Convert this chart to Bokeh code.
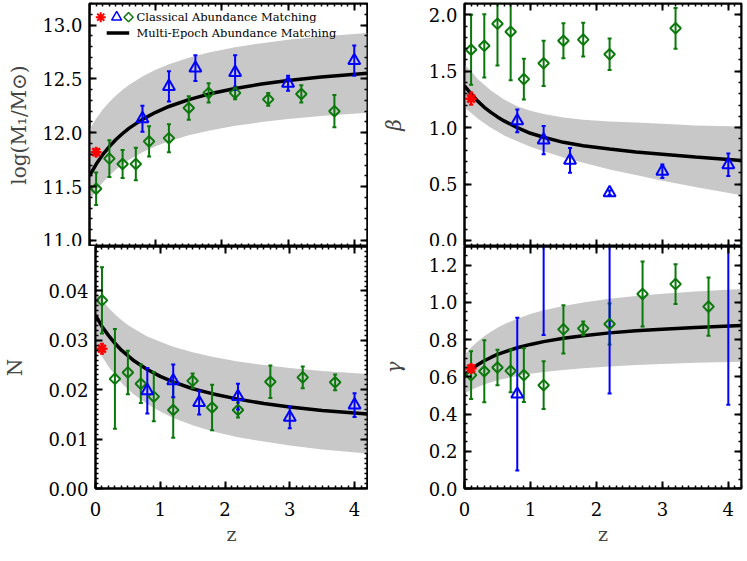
import numpy as np
from bokeh.plotting import figure
from bokeh.models import (Range1d, LinearAxis, FixedTicker, Label, PrintfTickFormatter,
                          CustomLabelingPolicy)
from bokeh.layouts import column, row
from bokeh.embed import file_html
from bokeh.resources import INLINE

# ---------------- data ----------------
z_green = [0.1, 0.3, 0.5, 0.7, 0.9, 1.2, 1.5, 1.8, 2.2, 2.7, 3.2, 3.7]
z_blue = [0.8, 1.2, 1.6, 2.2, 3.0, 4.0]
z_red = [0.1]

# log(M1/Msun)
m1_green = [11.48, 11.76, 11.71, 11.71, 11.92, 11.95, 12.23, 12.37, 12.37, 12.31, 12.36, 12.20]
m1_green_err = [0.15, 0.17, 0.13, 0.15, 0.14, 0.13, 0.11, 0.09, 0.06, 0.06, 0.08, 0.15]
m1_blue = [12.13, 12.43, 12.60, 12.56, 12.46, 12.67]
m1_blue_err = [0.12, 0.14, 0.12, 0.16, 0.07, 0.14]
m1_red = [11.82]
m1_red_err = [0.03]

# beta
z_green_beta = [0.1, 0.3, 0.5, 0.7, 0.9, 1.2, 1.5, 1.8, 2.2, 3.2]
beta_green = [1.69, 1.725, 1.92, 1.85, 1.43, 1.57, 1.77, 1.78, 1.65, 1.88]
beta_green_err = [0.31, 0.28, 0.37, 0.43, 0.18, 0.20, 0.155, 0.15, 0.14, 0.18]
beta_blue = [1.06, 0.89, 0.71, 0.424, 0.614, 0.672]
beta_blue_err = [0.10, 0.125, 0.11, 0.02, 0.06, 0.10]
beta_red = [1.257]
beta_red_err = [0.055]

# N
n_green = [0.0381, 0.0222, 0.0235, 0.0212, 0.0186, 0.0159, 0.0218, 0.0164, 0.0159, 0.0216, 0.0225, 0.0215]
n_green_err = [0.0067, 0.0101, 0.0044, 0.0039, 0.0050, 0.0056, 0.0015, 0.0046, 0.0015, 0.0033, 0.0022, 0.0016]
n_blue = [0.0198, 0.0218, 0.0174, 0.0186, 0.0144, 0.0169]
n_blue_err = [0.0046, 0.0033, 0.0024, 0.0026, 0.0022, 0.0024]
n_red = [0.0283]
n_red_err = [0.0010]

# gamma
gamma_green = [0.609, 0.630, 0.650, 0.632, 0.609, 0.555, 0.855, 0.860, 0.884, 1.045, 1.098, 0.977]
gamma_green_err = [0.128, 0.167, 0.096, 0.115, 0.144, 0.128, 0.130, 0.037, 0.110, 0.175, 0.107, 0.157]
z_blue_gamma = [0.8, 1.2, 2.2, 4.0]
gamma_blue = [0.507, 1.90, 1.80, 1.70]
gamma_blue_err = [0.41, 1.075, 1.29, 1.25]
gamma_red = [0.645]
gamma_red_err = [0.02]

# multi-epoch model (curve and band)
z_model = [0, 0.1, 0.2, 0.3, 0.4, 0.5, 0.6, 0.8, 1.0, 1.2, 1.5, 1.8, 2.2, 2.6, 3.0, 3.5, 4.2]
m1_model = [11.60, 11.707, 11.797, 11.872, 11.937, 11.993, 12.043, 12.124, 12.19, 12.244,
            12.308, 12.359, 12.411, 12.452, 12.485, 12.518, 12.553]
m1_hi = [12.03, 12.131, 12.215, 12.286, 12.347, 12.40, 12.446, 12.523, 12.585, 12.636,
         12.696, 12.744, 12.793, 12.832, 12.863, 12.893, 12.927]
m1_lo = [11.37, 11.462, 11.538, 11.603, 11.659, 11.707, 11.749, 11.819, 11.875, 11.921,
         11.976, 12.019, 12.064, 12.099, 12.128, 12.156, 12.186]
beta_model = [1.37, 1.30, 1.235, 1.18, 1.135, 1.095, 1.06, 1.0, 0.95, 0.915,
              0.87, 0.84, 0.81, 0.785, 0.765, 0.74, 0.71]
beta_hi = [1.56, 1.50, 1.43, 1.38, 1.33, 1.29, 1.25, 1.19, 1.15, 1.12,
           1.09, 1.07, 1.055, 1.045, 1.035, 1.02, 1.01]
beta_lo = [1.18, 1.13, 1.08, 1.04, 1.0, 0.965, 0.93, 0.88, 0.83, 0.79,
           0.735, 0.69, 0.63, 0.58, 0.53, 0.475, 0.40]
n_model = [0.0351, 0.0328, 0.0310, 0.0294, 0.0280, 0.0269, 0.0258, 0.0241, 0.0227, 0.0216,
           0.0202, 0.0192, 0.0181, 0.0172, 0.0165, 0.0158, 0.0151]
n_hi = [0.0401, 0.0382, 0.0366, 0.0353, 0.0341, 0.0331, 0.0323, 0.0308, 0.0297, 0.0287,
        0.0276, 0.0267, 0.0257, 0.0250, 0.0244, 0.0238, 0.0232]
n_lo = [0.0293, 0.0268, 0.0247, 0.0230, 0.0214, 0.0201, 0.0190, 0.0171, 0.0156, 0.0143,
        0.0128, 0.0116, 0.0104, 0.0095, 0.0087, 0.0079, 0.0071]
gamma_model = [0.61, 0.64, 0.665, 0.686, 0.704, 0.72, 0.733, 0.756, 0.774, 0.789,
               0.807, 0.821, 0.836, 0.847, 0.856, 0.865, 0.875]
gamma_hi = [0.717, 0.757, 0.79, 0.818, 0.842, 0.863, 0.882, 0.912, 0.937, 0.957,
            0.98, 0.999, 1.019, 1.034, 1.046, 1.058, 1.072]
gamma_lo = [0.51, 0.529, 0.545, 0.559, 0.571, 0.581, 0.59, 0.604, 0.616, 0.626,
            0.637, 0.646, 0.656, 0.663, 0.669, 0.675, 0.681]

x_ticks = [0, 1, 2, 3, 4]
legend_labels = ["Classical Abundance Matching", "Multi-Epoch Abundance Matching"]

# ---------------- style ----------------
FONT = "DejaVu Serif"
GREEN = "#0b780b"
BLUE = "#0000ff"
RED = "#ff0000"
BAND = "#c8c8c8"
X_MAX = 4.2

NO_LABELS = "for (const i of indices) { indices.unset(i) }\nreturn indices"


def style_axis(ax, labelled, fmt):
    ax.axis_line_width = 2
    ax.axis_line_color = "black"
    ax.major_tick_in = 7
    ax.major_tick_out = 0
    ax.minor_tick_in = 3
    ax.minor_tick_out = 0
    ax.major_tick_line_width = 2
    ax.minor_tick_line_width = 1.5
    ax.major_label_text_font = FONT
    ax.major_label_text_color = "black"
    ax.major_label_text_font_size = "18px"
    if fmt:
        ax.formatter = PrintfTickFormatter(format=fmt)
    if not labelled:
        ax.major_label_policy = CustomLabelingPolicy(code=NO_LABELS)


def make_panel(width, height, yrange, yticks, yminor, yfmt, ylabel, italic,
               left, right, top, bottom, xlabels, yl_standoff):
    y0, y1 = yrange
    p = figure(width=width, height=height, x_range=Range1d(0, X_MAX), y_range=Range1d(y0, y1),
               x_axis_type=None, y_axis_type=None, output_backend="svg", toolbar_location=None,
               min_border_left=left, min_border_right=right, min_border_top=top,
               min_border_bottom=bottom)
    p.outline_line_color = "black"
    p.outline_line_width = 2
    xminor = list(np.round(np.arange(0, X_MAX + 0.01, 0.1), 2))
    xt = FixedTicker(ticks=x_ticks, minor_ticks=xminor)
    yt = FixedTicker(ticks=yticks, minor_ticks=yminor)

    # bottom x axis
    bx = LinearAxis(ticker=xt)
    style_axis(bx, xlabels, "%d")
    if xlabels:
        bx.axis_label = "z"
        bx.axis_label_text_font = FONT
        bx.axis_label_text_font_style = "normal"
        bx.axis_label_text_font_size = "19px"
        bx.major_label_standoff = 13
        bx.axis_label_standoff = 4
    else:
        bx.fixed_location = y0
    p.add_layout(bx, "below")

    # top x axis (ticks only)
    tx = LinearAxis(ticker=xt, fixed_location=y1)
    style_axis(tx, False, None)
    p.add_layout(tx, "above")

    # left y axis
    ly = LinearAxis(ticker=yt)
    style_axis(ly, True, yfmt)
    ly.axis_label = ylabel
    ly.axis_label_text_font = FONT
    ly.axis_label_text_font_style = "italic" if italic else "normal"
    ly.axis_label_text_font_size = "20px"
    ly.major_label_standoff = 7
    ly.axis_label_standoff = yl_standoff
    p.add_layout(ly, "left")

    # right y axis (ticks only)
    ry = LinearAxis(ticker=yt, fixed_location=X_MAX)
    style_axis(ry, False, None)
    p.add_layout(ry, "right")
    return p


def draw(p, model, lo, hi, zg, g, ge, zb, b, be, r, re):
    p.varea(x=z_model, y1=lo, y2=hi, color=BAND)
    p.line(z_model, model, line_width=3.5, color="black")
    for zz, v, e, col in [(zg, g, ge, GREEN), (zb, b, be, BLUE), (z_red, r, re, RED)]:
        v = np.array(v)
        e = np.array(e)
        p.segment(x0=zz, y0=v - e, x1=zz, y1=v + e, line_color=col, line_width=2)
        p.scatter(zz, v - e, marker="dash", size=4, line_color=col, line_width=2)
        p.scatter(zz, v + e, marker="dash", size=4, line_color=col, line_width=2)
    p.scatter(zg, g, marker="square", angle=np.pi / 4, size=7.5, fill_color=None,
              line_color=GREEN, line_width=2)
    p.scatter(zb, b, marker="triangle", size=12, fill_color=None, line_color=BLUE, line_width=2)
    p.scatter(z_red, r, marker="asterisk", size=11, line_color=RED, line_width=2.5)


LW, RW = 368, 377
TH, BH = 246, 307

p1 = make_panel(LW, TH, (10.944, 13.2), [11.0, 11.5, 12.0, 12.5, 13.0],
                list(np.round(np.arange(11.0, 13.21, 0.1), 2)), "%.1f",
                "log(M\u2081/M\u2299)", False, 89, 1, 3, 0, False, 8)
draw(p1, m1_model, m1_lo, m1_hi, z_green, m1_green, m1_green_err, z_blue, m1_blue, m1_blue_err,
     m1_red, m1_red_err)

p2 = make_panel(RW, TH, (-0.053, 2.1), [0.0, 0.5, 1.0, 1.5, 2.0],
                list(np.round(np.arange(0, 2.11, 0.1), 2)), "%.1f",
                "\u03b2", True, 96, 4, 3, 0, False, 20)
draw(p2, beta_model, beta_lo, beta_hi, z_green_beta, beta_green, beta_green_err, z_blue,
     beta_blue, beta_blue_err, beta_red, beta_red_err)

p3 = make_panel(LW, BH, (0.0, 0.049), [0.0, 0.01, 0.02, 0.03, 0.04],
                list(np.round(np.arange(0, 0.0491, 0.001), 4)), "%.2f",
                "N", False, 89, 1, 0, 65, True, 18)
draw(p3, n_model, n_lo, n_hi, z_green, n_green, n_green_err, z_blue, n_blue, n_blue_err,
     n_red, n_red_err)

p4 = make_panel(RW, BH, (0.0, 1.3), [0.0, 0.2, 0.4, 0.6, 0.8, 1.0, 1.2],
                list(np.round(np.arange(0, 1.301, 0.05), 3)), "%.1f",
                "\u03b3", True, 96, 4, 0, 65, True, 20)
draw(p4, gamma_model, gamma_lo, gamma_hi, z_green, gamma_green, gamma_green_err, z_blue_gamma,
     gamma_blue, gamma_blue_err, gamma_red, gamma_red_err)

# legend (top-left panel)
LEG_Y1, LEG_Y2 = 13.073, 12.927
p1.scatter([0.17], [LEG_Y1], marker="asterisk", size=10, line_color=RED, line_width=2)
p1.scatter([0.41], [LEG_Y1], marker="triangle", size=10, fill_color=None, line_color=BLUE,
           line_width=1.5)
p1.scatter([0.59], [LEG_Y1], marker="square", angle=np.pi / 4, size=6.5, fill_color=None,
           line_color=GREEN, line_width=1.5)
p1.line([0.26, 0.60], [LEG_Y2, LEG_Y2], line_width=3.5, color="black")
for yy, txt in [(LEG_Y1, legend_labels[0]), (LEG_Y2, legend_labels[1])]:
    p1.add_layout(Label(x=0.71, y=yy, text=txt, text_font=FONT, text_font_size="11.5px",
                        text_baseline="middle", text_color="black"))

layout = column(row(p1, p2), row(p3, p4))
open("out.html", "w").write(file_html(layout, INLINE))
